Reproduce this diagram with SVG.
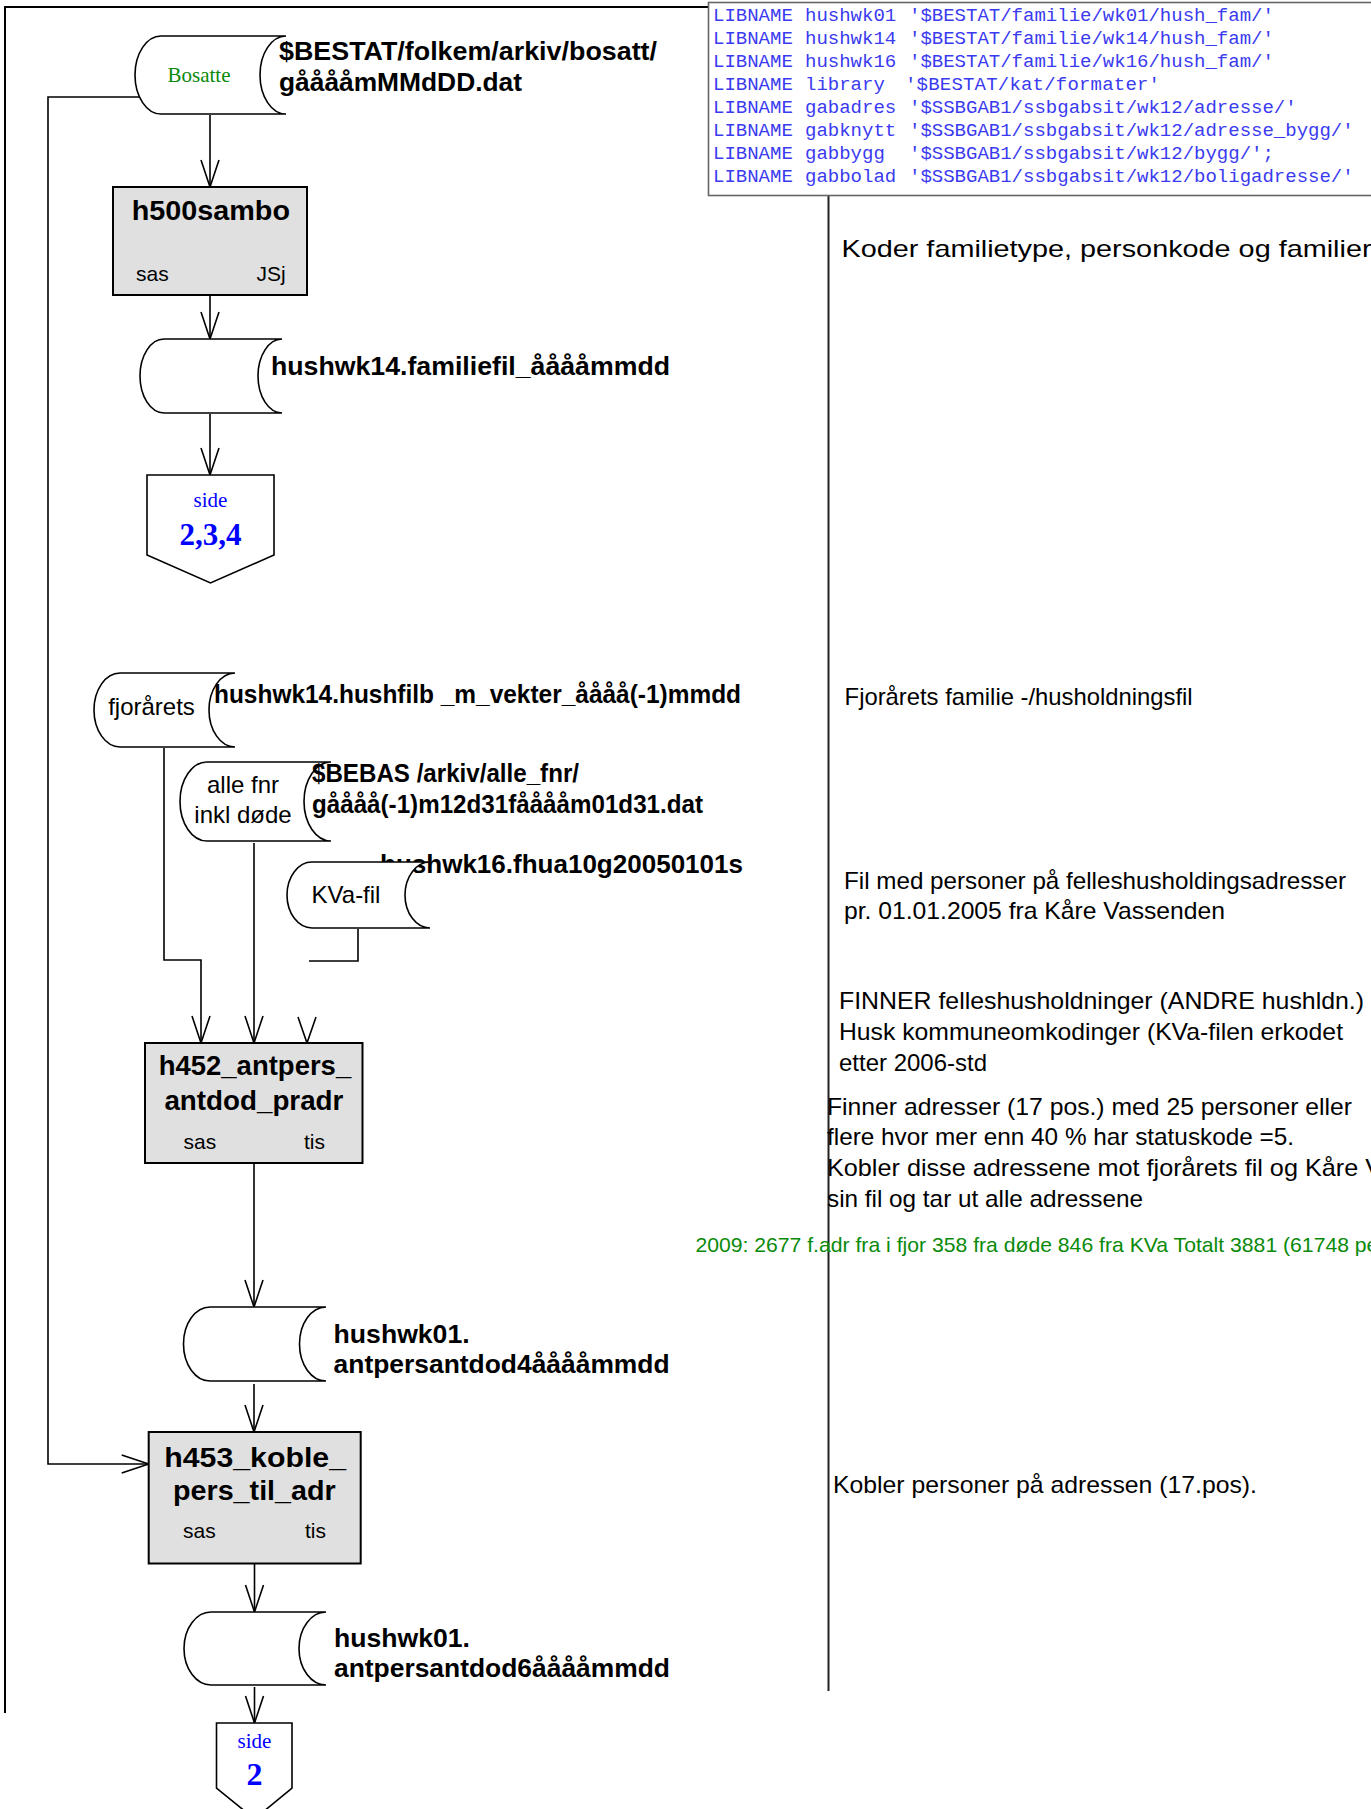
<svg xmlns="http://www.w3.org/2000/svg" width="1371" height="1809" viewBox="0 0 1371 1809">
<style>
.lab{font-family:"Liberation Sans",Arial,sans-serif;font-weight:bold;font-size:26px;fill:#000}
.ttl{font-family:"Liberation Sans",Arial,sans-serif;font-weight:bold;font-size:27.5px;fill:#000}
.sm{font-family:"Liberation Sans",Arial,sans-serif;font-size:21px;fill:#000}
.cy{font-family:"Liberation Sans",Arial,sans-serif;font-size:24px;fill:#000;text-anchor:middle}
.note{font-family:"Liberation Sans",Arial,sans-serif;font-size:24px;fill:#000}
.green{font-family:"Liberation Sans",Arial,sans-serif;font-size:21px;fill:#0a8a0a}
.mono{font-family:"Liberation Mono","Courier New",monospace;font-size:19px;fill:#3a3af0}
.serif{font-family:"Liberation Serif","Times New Roman",serif;text-anchor:middle}
.box{fill:#e0e0e0;stroke:#000;stroke-width:2}
.cyl{fill:#fff;stroke:#000;stroke-width:1.6}
.conn{fill:none;stroke:#000;stroke-width:1.6}
.frame{fill:none;stroke:#000;stroke-width:2}
</style>
<defs>
<marker id="ah" markerUnits="userSpaceOnUse" markerWidth="30" markerHeight="20" refX="27" refY="9" orient="auto" overflow="visible">
<path d="M0,0 L27,9 L0,18" fill="none" stroke="#000" stroke-width="1.6"/>
</marker>
</defs>
<rect width="1371" height="1809" fill="#fff"/>

<g id="frame">
<line class="frame" x1="4" y1="7" x2="709" y2="7"/>
<line class="frame" x1="5" y1="6" x2="5" y2="1713"/>
<line x1="828.5" y1="196" x2="828.5" y2="1691" stroke="#222" stroke-width="2"/>
</g>

<g id="libname">
<rect x="708.5" y="2.5" width="700" height="193" fill="#fff" stroke="#666" stroke-width="1.6"/>
<text class="mono" x="713" y="21">LIBNAME</text><text class="mono" x="805" y="21">hushwk01</text><text class="mono" x="909" y="21">'$BESTAT/familie/wk01/hush_fam/'</text>
<text class="mono" x="713" y="44">LIBNAME</text><text class="mono" x="805" y="44">hushwk14</text><text class="mono" x="909" y="44">'$BESTAT/familie/wk14/hush_fam/'</text>
<text class="mono" x="713" y="67">LIBNAME</text><text class="mono" x="805" y="67">hushwk16</text><text class="mono" x="909" y="67">'$BESTAT/familie/wk16/hush_fam/'</text>
<text class="mono" x="713" y="90">LIBNAME</text><text class="mono" x="805" y="90">library</text><text class="mono" x="905" y="90" textLength="255" lengthAdjust="spacing">'$BESTAT/kat/formater'</text>
<text class="mono" x="713" y="113">LIBNAME</text><text class="mono" x="805" y="113">gabadres</text><text class="mono" x="909" y="113">'$SSBGAB1/ssbgabsit/wk12/adresse/'</text>
<text class="mono" x="713" y="136">LIBNAME</text><text class="mono" x="805" y="136">gabknytt</text><text class="mono" x="909" y="136">'$SSBGAB1/ssbgabsit/wk12/adresse_bygg/'</text>
<text class="mono" x="713" y="159">LIBNAME</text><text class="mono" x="805" y="159">gabbygg</text><text class="mono" x="909" y="159">'$SSBGAB1/ssbgabsit/wk12/bygg/';</text>
<text class="mono" x="713" y="182">LIBNAME</text><text class="mono" x="805" y="182">gabbolad</text><text class="mono" x="909" y="182">'$SSBGAB1/ssbgabsit/wk12/boligadresse/'</text>
</g>

<g id="connectors">
<line class="conn" x1="210" y1="115" x2="210" y2="187" marker-end="url(#ah)"/>
<line class="conn" x1="210" y1="295" x2="210" y2="339" marker-end="url(#ah)"/>
<line class="conn" x1="210" y1="414" x2="210" y2="475" marker-end="url(#ah)"/>
<polyline class="conn" points="139,97 48,97 48,1464 148.7,1464" marker-end="url(#ah)"/>
<polyline class="conn" points="164,748 164,960 201,960 201,1043" marker-end="url(#ah)"/>
<line class="conn" x1="254" y1="843" x2="254" y2="1043" marker-end="url(#ah)"/>
<polyline class="conn" points="358,929 358,961 309,961"/>
<polyline class="conn" points="298,1017 307,1043 316,1017"/>
<line class="conn" x1="254" y1="1163" x2="254" y2="1307" marker-end="url(#ah)"/>
<line class="conn" x1="254" y1="1384" x2="254" y2="1432" marker-end="url(#ah)"/>
<line class="conn" x1="254.5" y1="1564" x2="254.5" y2="1612" marker-end="url(#ah)"/>
<line class="conn" x1="254.5" y1="1687" x2="254.5" y2="1723" marker-end="url(#ah)"/>
</g>

<g id="bosatte">
<path class="cyl" d="M161,36 H286 A26,39 0 0 0 286,114 H161 A26,39 0 0 1 161,36 Z"/>
<text class="serif" x="199" y="82" font-size="21" fill="#0a8a0a">Bosatte</text>
<text class="lab" x="279" y="60" textLength="378" lengthAdjust="spacingAndGlyphs">$BESTAT/folkem/arkiv/bosatt/</text>
<text class="lab" x="279" y="91" textLength="243" lengthAdjust="spacingAndGlyphs">gååååmMMdDD.dat</text>
</g>

<g id="h500sambo">
<rect class="box" x="113" y="187" width="194" height="108"/>
<text class="ttl" x="131.7" y="220" textLength="158.3" lengthAdjust="spacingAndGlyphs">h500sambo</text>
<text class="sm" x="136" y="281">sas</text>
<text class="sm" x="285.7" y="281" text-anchor="end">JSj</text>
</g>

<g id="familiefil">
<path class="cyl" d="M164,339 H282 A24,37 0 0 0 282,413 H164 A24,37 0 0 1 164,339 Z"/>
<text class="lab" x="271" y="375" textLength="399" lengthAdjust="spacingAndGlyphs">hushwk14.familiefil_ååååmmdd</text>
</g>

<g id="side234">
<polygon points="147,475 274,475 274,555 210.5,583 147,555" fill="#fff" stroke="#000" stroke-width="1.6"/>
<text class="serif" x="210.5" y="507" font-size="21" fill="#0000ff">side</text>
<text class="serif" x="210.5" y="545" font-size="31" font-weight="bold" fill="#0000ff">2,3,4</text>
</g>

<g id="fjoraarets">
<path class="cyl" d="M120,673 H235 A26,37 0 0 0 235,747 H120 A26,37 0 0 1 120,673 Z"/>
<text class="cy" x="151.5" y="715">fjorårets</text>
<text class="lab" x="214" y="703" textLength="527" lengthAdjust="spacingAndGlyphs">hushwk14.hushfilb _m_vekter_åååå(-1)mmdd</text>
</g>

<g id="allefnr">
<path class="cyl" d="M207,762 H331 A27,39.5 0 0 0 331,841 H207 A27,39.5 0 0 1 207,762 Z"/>
<text class="cy" x="243" y="793">alle fnr</text>
<text class="cy" x="243" y="823">inkl døde</text>
<text class="lab" x="312" y="782" textLength="267" lengthAdjust="spacingAndGlyphs">$BEBAS /arkiv/alle_fnr/</text>
<text class="lab" x="312" y="813" textLength="391" lengthAdjust="spacingAndGlyphs">gåååå(-1)m12d31fååååm01d31.dat</text>
</g>

<g id="kvafil">
<text class="lab" x="380" y="873" textLength="363" lengthAdjust="spacingAndGlyphs">hushwk16.fhua10g20050101s</text>
<path class="cyl" d="M312,862 H430 A25,33 0 0 0 430,928 H312 A25,33 0 0 1 312,862 Z"/>
<text class="cy" x="346" y="903">KVa-fil</text>
</g>

<g id="h452">
<rect class="box" x="145" y="1043" width="217.5" height="120"/>
<text class="ttl" x="158.7" y="1075" textLength="192.5" lengthAdjust="spacingAndGlyphs">h452_antpers_</text>
<text class="ttl" x="164.4" y="1110" textLength="179" lengthAdjust="spacingAndGlyphs">antdod_pradr</text>
<text class="sm" x="183.6" y="1149">sas</text>
<text class="sm" x="304" y="1149">tis</text>
</g>

<g id="antpersantdod4">
<path class="cyl" d="M210,1307 H326 A26.5,37 0 0 0 326,1381 H210 A26.5,37 0 0 1 210,1307 Z"/>
<text class="lab" x="333.6" y="1343" textLength="136" lengthAdjust="spacingAndGlyphs">hushwk01.</text>
<text class="lab" x="333.6" y="1373" textLength="336" lengthAdjust="spacingAndGlyphs">antpersantdod4ååååmmdd</text>
</g>

<g id="h453">
<rect class="box" x="148.7" y="1432" width="212" height="131.5"/>
<text class="ttl" x="164.3" y="1467" textLength="181.7" lengthAdjust="spacingAndGlyphs">h453_koble_</text>
<text class="ttl" x="173" y="1500" textLength="162.7" lengthAdjust="spacingAndGlyphs">pers_til_adr</text>
<text class="sm" x="183" y="1538">sas</text>
<text class="sm" x="305" y="1538">tis</text>
</g>

<g id="antpersantdod6">
<path class="cyl" d="M211,1612 H326 A27,36.5 0 0 0 326,1685 H211 A27,36.5 0 0 1 211,1612 Z"/>
<text class="lab" x="334" y="1647" textLength="136" lengthAdjust="spacingAndGlyphs">hushwk01.</text>
<text class="lab" x="334" y="1677" textLength="336" lengthAdjust="spacingAndGlyphs">antpersantdod6ååååmmdd</text>
</g>

<g id="side2">
<polygon points="216.5,1723 292,1723 292,1788 254.5,1819 216.5,1788" fill="#fff" stroke="#000" stroke-width="1.6"/>
<text class="serif" x="254.5" y="1748" font-size="21" fill="#0000ff">side</text>
<text class="serif" x="254.5" y="1785" font-size="32" font-weight="bold" fill="#0000ff">2</text>
</g>

<g id="notes">
<text class="note" x="841.5" y="257" font-size="26.5" textLength="530" lengthAdjust="spacingAndGlyphs">Koder familietype, personkode og familier</text>
<text class="note" x="844.6" y="705" textLength="348" lengthAdjust="spacingAndGlyphs">Fjorårets familie -/husholdningsfil</text>
<text class="note" x="844" y="889" textLength="502" lengthAdjust="spacingAndGlyphs">Fil med personer på felleshusholdingsadresser</text>
<text class="note" x="844" y="919" textLength="381" lengthAdjust="spacingAndGlyphs">pr. 01.01.2005  fra Kåre Vassenden</text>
<text class="note" x="839" y="1009" textLength="525" lengthAdjust="spacingAndGlyphs">FINNER felleshusholdninger  (ANDRE hushldn.)</text>
<text class="note" x="839" y="1040" textLength="504" lengthAdjust="spacingAndGlyphs">Husk kommuneomkodinger  (KVa-filen erkodet</text>
<text class="note" x="839" y="1070.6" textLength="148" lengthAdjust="spacingAndGlyphs">etter 2006-std</text>
<text class="note" x="827" y="1114.6" textLength="525" lengthAdjust="spacingAndGlyphs">Finner adresser (17 pos.) med 25  personer eller</text>
<text class="note" x="827" y="1145" textLength="467" lengthAdjust="spacingAndGlyphs">flere hvor mer enn 40 % har statuskode =5.</text>
<text class="note" x="827" y="1176" textLength="555" lengthAdjust="spacingAndGlyphs">Kobler disse adressene mot fjorårets fil og Kåre V</text>
<text class="note" x="827" y="1206.5" textLength="316" lengthAdjust="spacingAndGlyphs">sin fil og tar ut alle adressene</text>
<text class="green" x="695.4" y="1252" textLength="683" lengthAdjust="spacingAndGlyphs">2009: 2677 f.adr fra i fjor 358 fra døde 846 fra KVa Totalt 3881 (61748 pe</text>
<text class="note" x="833" y="1493" textLength="424" lengthAdjust="spacingAndGlyphs">Kobler personer på adressen (17.pos).</text>
</g>
</svg>
